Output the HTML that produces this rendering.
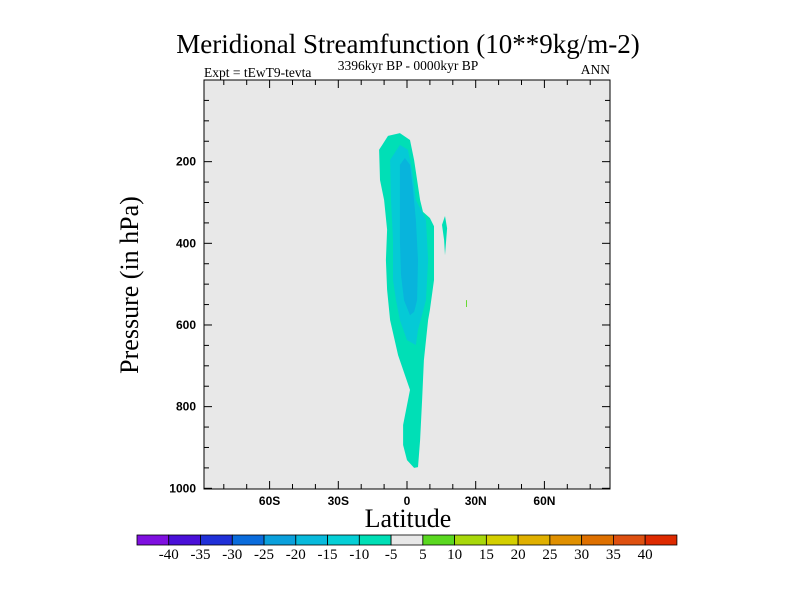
<!DOCTYPE html>
<html><head><meta charset="utf-8"><style>
body{margin:0;background:#fff;width:800px;height:600px;overflow:hidden}
svg{font-family:"Liberation Serif",serif}
</style></head><body>
<svg id="chart" width="800" height="600">
<text x="408" y="53" font-size="27" text-anchor="middle">Meridional Streamfunction (10**9kg/m-2)</text>
<text x="408" y="70" font-size="13.5" text-anchor="middle">3396kyr BP - 0000kyr BP</text>
<text x="204" y="77" font-size="13.5">Expt = tEwT9-tevta</text>
<text x="610" y="74" font-size="13.5" text-anchor="end">ANN</text>
<rect x="204" y="80" width="406" height="409" fill="#e8e8e8"/>
<g id="fills"></g>
<g id="axes"></g>
<rect x="204" y="80" width="406" height="409" fill="none" stroke="#000" stroke-width="1"/>
<text x="408" y="527" font-size="26" text-anchor="middle">Latitude</text>
<text transform="translate(138,285) rotate(-90)" font-size="26" text-anchor="middle">Pressure (in hPa)</text>
<g id="cbar"></g>
</svg>
<script>
const levels = [-5, -10, -15];
const lat_m5 = [-12.2,-8.3,-3.1,1.3,3.1,4.4,5.7,7,10,11.8,11.8,10,9.2,7.4,6.6,5.7,4.8,3.1,0,-1.7,-1.7,1.3,-3.9,-7.4,-8.7,-9.2,-8.7,-10,-11.8];
const p_m5 = [171,137,130,147,196,245,294,323,338,358,490,563,588,686,784,882,948,950,931,894,845,759,674,588,514,441,367,294,245];
const lat_m10 = [-7.4,-3.1,0.4,2.2,3.9,8.3,9.2,8.3,4.8,3.9,0,-3.1,-4.8,-6.1,-6.1,-7];
const p_m10 = [196,159,171,220,294,343,441,539,612,649,637,588,539,490,392,294];
const lat_m15 = [-3.1,-0.9,1.3,2.6,3.9,4.8,4.4,3.1,1.3,-1.3,-2.6,-3.1,-3.1];
const p_m15 = [208,191,208,269,343,441,539,568,576,539,477,392,294];
const lat_blob = [15.3,16.6,17.5,16.6,16.2];
const p_blob = [355,333,363,429,392];
const lat_dot = [25.8,26.2,26.2,25.8];
const p_dot = [539,539,556,556];
const cbarLabels = ["-40","-35","-30","-25","-20","-15","-10","-5","5","10","15","20","25","30","35","40"];
const cbarColors = ["#7f10e0","#4a10d8","#2030d8","#0a6cdc","#0aa0dc","#08badc","#05cfd6","#00dfb6","#e8e8e8","#5ad820","#a8d80a","#d4cf00","#e0b000","#e09000","#de7000","#de5010","#de2a00"];
const xTicks = [-60,-30,0,30,60];
const xTickLabels = ["60S","30S","0","30N","60N"];
const yTicks = [200,400,600,800,1000];

const X = lat => 407 + lat*2.29;
const Y = p => 80 + p*0.4083;
const NS = "http://www.w3.org/2000/svg";
function mk(tag, attrs, parent){const e=document.createElementNS(NS,tag);for(const k in attrs)e.setAttribute(k,attrs[k]);parent.appendChild(e);return e;}
const fills=document.getElementById('fills');
function band(lats, ps, color, name){
  const pts=lats.map((l,i)=>X(l).toFixed(1)+','+Y(ps[i]).toFixed(1)).join(' ');
  const e=mk('polygon',{points:pts,fill:color},fills);
  
  
}
band(lat_m5,p_m5,"#00dfb6","contour-band-minus5");
band(lat_m10,p_m10,"#05cad6","contour-band-minus10");
band(lat_m15,p_m15,"#08b4dc","contour-band-minus15");
band(lat_blob,p_blob,"#00dfb6","contour-blob-east");
band(lat_dot,p_dot,"#5ad820","contour-dot-positive");

const ax=document.getElementById('axes');
for(let l=-80;l<=80;l+=10){
  const major=xTicks.includes(l), len=major?8:5;
  mk('line',{x1:X(l),x2:X(l),y1:489,y2:489-len,stroke:'#000'},ax);
  mk('line',{x1:X(l),x2:X(l),y1:80,y2:80+len,stroke:'#000'},ax);
}
xTicks.forEach((l,i)=>{
  const t=mk('text',{x:X(l),y:505,'font-size':12,'font-weight':'bold','text-anchor':'middle','font-family':'Liberation Sans, sans-serif'},ax);
  t.textContent=xTickLabels[i];
  
  
});
for(let p=50;p<=1000;p+=50){
  const major=yTicks.includes(p), len=major?8:5;
  mk('line',{x1:204,x2:204+len,y1:Y(p),y2:Y(p),stroke:'#000'},ax);
  mk('line',{x1:610,x2:610-len,y1:Y(p),y2:Y(p),stroke:'#000'},ax);
}
yTicks.forEach(p=>{
  const t=mk('text',{x:196,y:Y(p)+4,'font-size':12,'font-weight':'bold','text-anchor':'end','font-family':'Liberation Sans, sans-serif'},ax);
  t.textContent=p;
  
  
});

const cb=document.getElementById('cbar');
const cx0=137, cw=31.76, cy=535, ch=10;
cbarColors.forEach((c,i)=>{
  const r=mk('rect',{x:cx0+i*cw,y:cy,width:cw,height:ch,fill:c,stroke:'#000','stroke-width':0.8},cb);
  
  
});
cbarLabels.forEach((s,i)=>{
  const t=mk('text',{x:cx0+(i+1)*cw,y:559,'font-size':15,'text-anchor':'middle'},cb);
  t.textContent=s;
  
  
});
</script>
</body></html>
